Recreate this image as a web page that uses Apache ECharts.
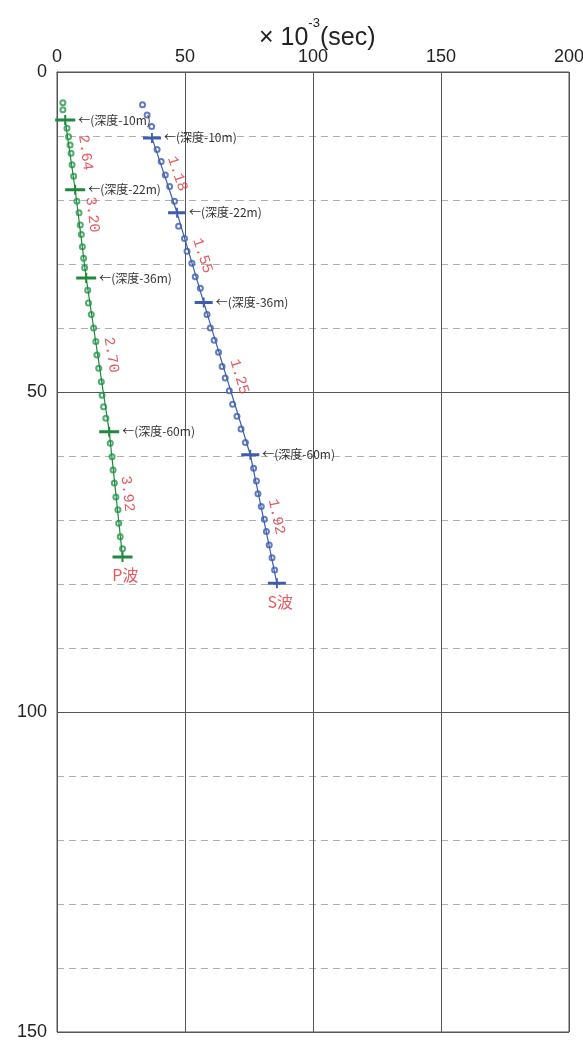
<!DOCTYPE html>
<html>
<head>
<meta charset="utf-8">
<script src="https://cdn.jsdelivr.net/npm/echarts@6/dist/echarts.min.js"></script>
<style>
html,body{margin:0;padding:0;background:#fff;}
#chart{width:583px;height:1046px;}
</style>
</head>
<body>
<div id="chart"></div>
<script>
// ---- data (x: travel time ×10^-3 sec, y: depth) ----
const xTicks = [0, 50, 100, 150, 200];
const yTicks = [0, 50, 100, 150];
const depthNotes = ['←(深度-10m)', '←(深度-22m)', '←(深度-36m)', '←(深度-60m)'];

const pKnots = [[3.2, 7.5], [7.1, 18.4], [11.4, 32.2], [20.4, 56.2], [25.6, 75.8]];
const sKnots = [[37.1, 10.3], [46.9, 22.0], [57.3, 36.0], [75.5, 59.8], [85.9, 79.9]];

const pObs = [
  [2.3, 4.8], [2.3, 5.9],
  [3.9, 8.8], [4.5, 10.1], [5.1, 11.4], [5.5, 12.7], [5.9, 14.5], [6.5, 16.3],
  [7.8, 20.2], [8.6, 22.0], [9.1, 23.9], [9.5, 25.4], [9.9, 27.3], [10.4, 29.1], [10.8, 30.6],
  [12.0, 34.1], [12.3, 36.1], [13.4, 37.9], [14.3, 40.0], [15.2, 42.1], [15.6, 44.2], [16.3, 46.3],
  [17.3, 48.4], [17.6, 50.5], [18.2, 52.3], [19.1, 54.1],
  [20.8, 58.0], [21.5, 60.1], [21.9, 62.2], [22.4, 64.2], [23.0, 66.4], [23.8, 68.4], [24.1, 70.5],
  [24.7, 72.6], [25.6, 74.5]
];
const sObs = [
  [33.4, 5.1], [35.2, 6.7], [37.0, 8.5],
  [39.1, 12.1], [40.7, 14.0], [42.3, 16.1], [44.0, 17.9], [45.9, 20.2],
  [47.5, 24.1], [49.8, 26.0], [50.8, 28.0], [52.7, 29.9], [54.0, 32.0], [56.0, 33.8],
  [58.6, 37.9], [59.9, 40.0], [61.4, 41.9], [63.1, 43.8], [64.5, 46.0], [65.7, 47.8], [67.3, 49.8],
  [68.6, 51.9], [70.3, 53.8], [71.9, 55.8], [73.6, 57.9],
  [76.8, 61.9], [77.9, 63.9], [78.5, 65.9], [79.8, 67.9], [81.0, 69.9], [81.8, 71.8], [82.9, 73.9],
  [84.0, 75.9], [85.0, 77.8]
];

const pVel = ['2.64', '3.20', '2.70', '3.92'];
const sVel = ['1.18', '1.55', '1.25', '1.92'];
// label anchors (data coordinates)
const pVelAt = [[11.1, 12.6], [13.8, 22.3], [21.2, 44.2], [27.5, 65.9]];
const sVelAt = [[47.0, 15.9], [56.8, 28.7], [71.2, 47.6], [85.7, 69.5]];
const waveNames = ['P波', 'S波'];
const waveNameAt = [[26.7, 78.6], [87.2, 82.8]];

// ---- styles ----
const GREEN = '#23994a';
const BLUE = '#3b5caf';
const RED = '#e0303a';
const SANS = "'Liberation Sans Narrow','Liberation Sans',sans-serif";
const CJK = "'Noto Sans CJK JP',sans-serif";
const MONO = "'Liberation Mono','DejaVu Sans Mono',monospace";
const PLUS = 'path://M0,3.5H20V6.5H0Z M9,0H11V10H9Z';
const pRot = [-82, -83.5, -81, -84];
const sRot = [-71.5, -71.5, -73, -78];

const chart = echarts.init(document.getElementById('chart'), null, {renderer: 'canvas'});

function knotSeries(knots, color, w) {
  return {
    type: 'line',
    data: knots.map((k, i) => ({
      value: k,
      label: i < depthNotes.length ? {
        show: true, position: 'right', distance: 3, formatter: depthNotes[i],
        color: '#333', fontSize: 12, fontFamily: CJK
      } : {show: false}
    })),
    symbol: PLUS, symbolSize: [w, 10],
    itemStyle: {color: color},
    lineStyle: {color: color, width: 1.2},
    z: 4, animation: false
  };
}
function obsSeries(pts, color) {
  return {
    type: 'scatter', data: pts, symbol: 'emptyCircle', symbolSize: 5,
    itemStyle: {color: color, borderColor: color, borderWidth: 1},
    z: 3, animation: false
  };
}
function textSeries(pos, texts, rots, font, size) {
  return {
    type: 'scatter', symbolSize: 0, silent: true, animation: false, z: 6,
    data: pos.map((p, i) => ({
      value: p,
      label: {
        show: true, position: 'inside', formatter: texts[i], rotate: rots ? rots[i] : 0,
        color: RED, fontSize: size, fontFamily: font, align: 'center', verticalAlign: 'middle'
      }
    }))
  };
}

const option = {
  backgroundColor: '#fff',
  animation: false,
  title: {
    text: '{a|×}{a| 10}{b|-3}{a|(sec)}',
    left: 254, top: 12,
    textStyle: {
      fontWeight: 'normal',
      rich: {
        a: {fontSize: 25, lineHeight: 34, fontFamily: SANS, color: '#222', fontWeight: 'normal', verticalAlign: 'bottom'},
        b: {fontSize: 13, lineHeight: 13, fontFamily: SANS, color: '#222', fontWeight: 'normal', verticalAlign: 'top'}
      }
    }
  },
  grid: {left: 57, right: 14, top: 72, bottom: 14, show: true, borderColor: '#555', borderWidth: 1,
         containLabel: false, outerBoundsMode: 'none'},
  xAxis: {
    type: 'value', position: 'top', min: xTicks[0], max: xTicks[xTicks.length - 1], interval: 50,
    axisLine: {show: true, lineStyle: {color: '#555'}},
    axisTick: {show: false},
    axisLabel: {fontSize: 18, color: '#222', fontFamily: SANS, margin: 6},
    splitLine: {show: true, lineStyle: {color: '#555', width: 1}}
  },
  yAxis: {
    type: 'value', inverse: true, min: yTicks[0], max: yTicks[yTicks.length - 1], interval: 50,
    axisLine: {show: true, lineStyle: {color: '#555'}},
    axisTick: {show: false},
    axisLabel: {fontSize: 18, color: '#222', fontFamily: SANS, margin: 10},
    splitLine: {show: true, lineStyle: {color: '#555', width: 1}},
    minorTick: {show: false, splitNumber: 5},
    minorSplitLine: {show: true, lineStyle: {color: '#b0b0b0', type: [7, 5], width: 1}}
  },
  series: [
    obsSeries(pObs, GREEN),
    obsSeries(sObs, BLUE),
    knotSeries(pKnots, '#1f8a3e', 20),
    knotSeries(sKnots, BLUE, 18),
    textSeries(pVelAt, pVel, pRot, MONO, 15),
    textSeries(sVelAt, sVel, sRot, MONO, 15),
    textSeries(waveNameAt, waveNames, null, CJK, 16)
  ]
};
chart.setOption(option);
</script>
</body>
</html>
